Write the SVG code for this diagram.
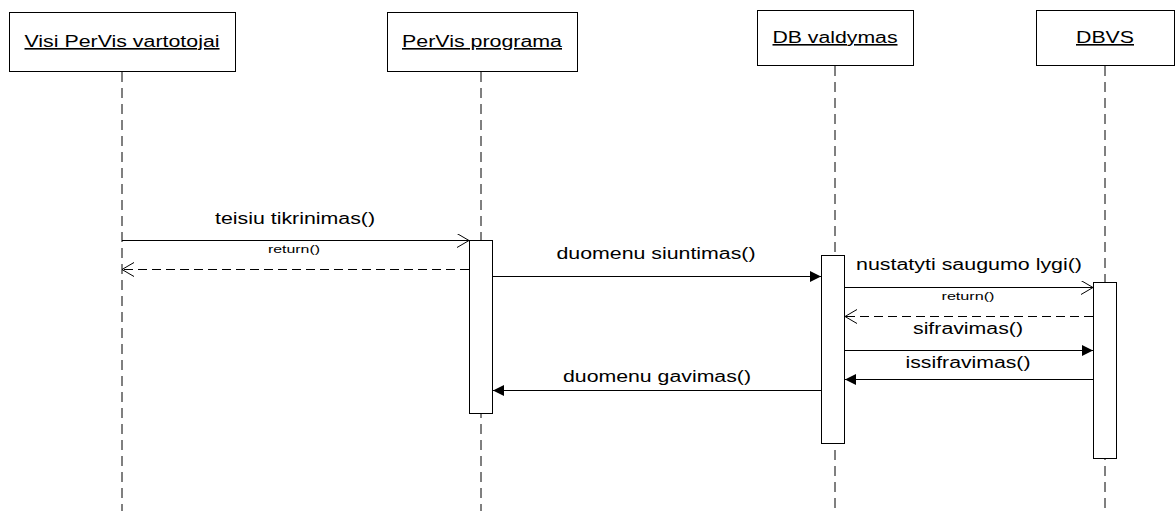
<svg xmlns="http://www.w3.org/2000/svg" width="1175" height="511" viewBox="0 0 1175 511">
<style>
  .box{fill:#fff;stroke:#000;stroke-width:1}
  .act{fill:#fff;stroke:#000;stroke-width:1}
  .life{stroke:#000;stroke-width:1;stroke-dasharray:10 6;fill:none}
  .msg{stroke:#000;stroke-width:1;fill:none}
  .ret{stroke:#000;stroke-width:1;fill:none;stroke-dasharray:9 5}
  .t{font-family:"Liberation Sans",Arial,sans-serif;font-size:16px;fill:#000;text-anchor:middle}
  .h{text-decoration:underline}
  .s{font-family:"Liberation Sans",Arial,sans-serif;font-size:11px;fill:#000;text-anchor:middle}
</style>
<defs>
  <marker id="open" markerUnits="userSpaceOnUse" markerWidth="14" markerHeight="16" refX="12" refY="7" orient="auto">
    <path d="M0,0 L12,7 L0,14" fill="none" stroke="#000" stroke-width="1"/>
  </marker>
  <marker id="fill" markerUnits="userSpaceOnUse" markerWidth="13" markerHeight="12" refX="11" refY="5.5" orient="auto">
    <path d="M0,0 L11,5.5 L0,11 z" fill="#000" stroke="none"/>
  </marker>
</defs>
<rect width="1175" height="511" fill="#fff"/>

<g id="lifeline-vartotojai">
  <line class="life" x1="122" y1="72" x2="122" y2="511"/>
  <rect class="box" x="9.5" y="12.5" width="226" height="59"/>
  <text class="t h" x="122" y="47" textLength="195" lengthAdjust="spacingAndGlyphs">Visi PerVis vartotojai</text>
</g>
<g id="lifeline-programa">
  <line class="life" x1="481" y1="72" x2="481" y2="511"/>
  <rect class="box" x="387.5" y="12.5" width="190" height="59"/>
  <text class="t h" x="482" y="47" textLength="160" lengthAdjust="spacingAndGlyphs">PerVis programa</text>
  <rect class="act" x="469.5" y="240.5" width="23" height="173"/>
</g>
<g id="lifeline-dbvaldymas">
  <line class="life" x1="835" y1="66" x2="835" y2="511"/>
  <rect class="box" x="757.5" y="10.5" width="156" height="55"/>
  <text class="t h" x="835" y="43" textLength="125" lengthAdjust="spacingAndGlyphs">DB valdymas</text>
  <rect class="act" x="821.5" y="255.5" width="23" height="188"/>
</g>
<g id="lifeline-dbvs">
  <line class="life" x1="1105" y1="66" x2="1105" y2="511"/>
  <rect class="box" x="1036.5" y="10.5" width="138" height="55"/>
  <text class="t h" x="1105" y="43" textLength="58" lengthAdjust="spacingAndGlyphs">DBVS</text>
  <rect class="act" x="1093.5" y="282.5" width="23" height="176"/>
</g>

<g id="connectors">
  <line class="msg" x1="122" y1="240.5" x2="469" y2="240.5" marker-end="url(#open)"/>
  <text class="t" x="295" y="224" textLength="160" lengthAdjust="spacingAndGlyphs">teisiu tikrinimas()</text>

  <line class="ret" x1="469" y1="269.5" x2="122" y2="269.5" marker-end="url(#open)"/>
  <text class="s" x="294" y="253" textLength="52" lengthAdjust="spacingAndGlyphs">return()</text>

  <line class="msg" x1="493" y1="276.5" x2="821" y2="276.5" marker-end="url(#fill)"/>
  <text class="t" x="656" y="259" textLength="199" lengthAdjust="spacingAndGlyphs">duomenu siuntimas()</text>

  <line class="msg" x1="845" y1="287.5" x2="1093" y2="287.5" marker-end="url(#open)"/>
  <text class="t" x="969" y="270" textLength="226" lengthAdjust="spacingAndGlyphs">nustatyti saugumo lygi()</text>

  <line class="ret" x1="1093" y1="316.5" x2="845" y2="316.5" marker-end="url(#open)"/>
  <text class="s" x="968" y="300" textLength="53" lengthAdjust="spacingAndGlyphs">return()</text>

  <line class="msg" x1="845" y1="350.5" x2="1093" y2="350.5" marker-end="url(#fill)"/>
  <text class="t" x="968" y="334" textLength="110" lengthAdjust="spacingAndGlyphs">sifravimas()</text>

  <line class="msg" x1="1093" y1="379.5" x2="845" y2="379.5" marker-end="url(#fill)"/>
  <text class="t" x="968" y="368" textLength="125" lengthAdjust="spacingAndGlyphs">issifravimas()</text>

  <line class="msg" x1="821" y1="390.5" x2="493" y2="390.5" marker-end="url(#fill)"/>
  <text class="t" x="657" y="382" textLength="188" lengthAdjust="spacingAndGlyphs">duomenu gavimas()</text>
</g>
</svg>
